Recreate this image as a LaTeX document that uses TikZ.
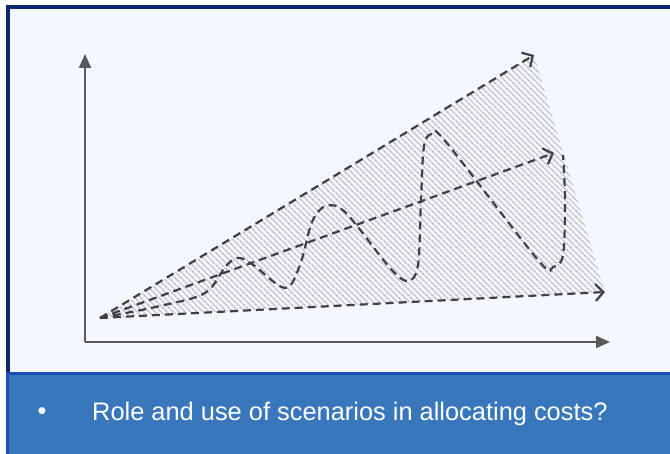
\documentclass[tikz,border=0pt]{standalone}
\usepackage{fontspec}
\setmainfont{Liberation Sans}
\usepackage{tikz}
\usetikzlibrary{arrows.meta, patterns.meta}
\definecolor{framenavy}{RGB}{12, 40, 108}
\definecolor{paneback}{RGB}{244, 247, 253}
\definecolor{bandblue}{RGB}{57, 119, 189}
\definecolor{bandedge}{RGB}{30, 76, 180}
\definecolor{axisgray}{RGB}{89, 89, 89}
\definecolor{dashgray}{RGB}{64, 64, 64}

\begin{document}
\begin{tikzpicture}[
    x=1pt, y=-1pt,
    axis/.style={draw=axisgray, line width=2.2pt, -{Triangle[length=14pt, width=12pt]}},
    guess/.style={draw=dashgray, line width=2.2pt, dash pattern=on 8pt off 5pt,
                  -{Straight Barb[length=8pt, width=17pt]}},
    wave/.style={draw=dashgray, line width=2.2pt, dash pattern=on 8pt off 5pt},
    cone/.style={pattern={Lines[angle=-45, distance=4pt, line width=1.6pt]}, pattern color=gray!50},
    label/.style={text=white, inner sep=0pt, font=\fontsize{25.4}{30}\selectfont}
]
    \useasboundingbox (0,0) rectangle (670,454);
    % frame and band
    \fill[white] (0,0) rectangle (670,454);
    \draw[framenavy, line width=3.5pt, fill=paneback] (7.75,7) rectangle (680,470);
    \fill[bandblue] (6,373) rectangle (670,454);
    \draw[bandedge, line width=3pt] (7.5,460) -- (7.5,373.5) -- (680,373.5);

    % axes
    \coordinate (corner) at (85,342);
    \coordinate (ytip) at (85,54);
    \coordinate (xtip) at (610,342);
    \draw[axis] (corner) -- (ytip);
    \draw[axis] (corner) -- (xtip);

    % cone of scenarios
    \coordinate (o) at (100,318);
    \coordinate (hi) at (534,55);
    \coordinate (mid) at (554,153);
    \coordinate (lo) at (605,292);
    \fill[cone] (o) -- (hi) -- (lo) -- cycle;

    \draw[wave] plot[smooth, tension=0.55] coordinates {
        (o) (160,306) (205,293) (226,266) (238,258) (252,264) (285,288)
        (300,265) (312,222) (326,206) (346,213) (390,268) (408,281) (418,265)
        (421,200) (424,146) (432,134) (446,142) (538,260) (553,267) (563,255)
        (565,200) (563,155)};

    \draw[guess] (o) -- (hi);
    \draw[guess] (o) -- (mid);
    \draw[guess] (o) -- (lo);

    % question
    \node[label] (dot) at (42,414) {•};
    \node[label, anchor=west] (q) at (92,414) {Role and use of scenarios in allocating costs?};
\end{tikzpicture}
\end{document}
